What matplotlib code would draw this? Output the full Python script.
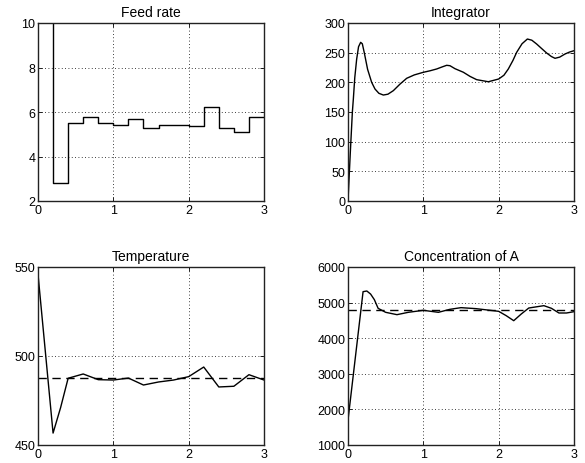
import matplotlib
matplotlib.use("Agg")
import matplotlib.pyplot as plt
import numpy as np

plt.rcParams['font.family'] = ['Liberation Sans', 'DejaVu Sans']

# Feed rate (zero-order hold, step 0.2)
feed_t = [0.0, 0.2, 0.4, 0.6, 0.8, 1.0, 1.2, 1.4, 1.6, 1.8, 2.0, 2.2, 2.4, 2.6, 2.8, 3.0]
feed_v = [10.5, 2.82, 5.49, 5.76, 5.49, 5.43, 5.70, 5.30, 5.42, 5.42, 5.36, 6.21, 5.27, 5.12, 5.76, 5.76]

# Integrator
int_t = [0.0, 0.03, 0.058, 0.071, 0.09, 0.115, 0.14, 0.168, 0.19, 0.216, 0.26, 0.314, 0.358, 0.41,
         0.469, 0.53, 0.602, 0.69, 0.779, 0.88, 1.0, 1.09, 1.177, 1.25, 1.31, 1.354, 1.42, 1.531,
         1.62, 1.708, 1.863, 2.0, 2.07, 2.128, 2.19, 2.239, 2.31, 2.381, 2.44, 2.504, 2.57, 2.637,
         2.70, 2.748, 2.81, 2.88, 2.94, 3.0]
int_v = [0, 80, 150, 172, 208, 239, 260, 267.4, 265, 250, 222, 200, 188.8, 181.5,
         178.6, 180, 186, 197, 206.8, 212.5, 216.9, 219.5, 222.5, 226, 228.7, 228, 223, 217,
         210, 204.5, 201, 205.6, 212, 222.5, 237, 250.6, 265, 273, 271, 264.6, 257, 249.4,
         243.5, 240.5, 242.5, 247.7, 251, 253.3]

# Temperature
temp_t = [0.0, 0.2, 0.3, 0.4, 0.6, 0.8, 1.0, 1.2, 1.4, 1.6, 1.8, 2.0, 2.2, 2.4, 2.6, 2.8, 3.0]
temp_v = [546, 456.7, 471, 487.5, 489.9, 486.7, 486.5, 487.6, 483.7, 485.4, 486.5, 488.4, 493.8, 482.6, 483.0, 489.5, 486.5]
temp_ref = 487.8

# Concentration of A
conc_t = [0.0, 0.2, 0.25, 0.3, 0.35, 0.4, 0.5, 0.65, 0.8, 1.0, 1.2, 1.35, 1.5, 1.7, 2.0, 2.1, 2.2,
          2.3, 2.4, 2.6, 2.7, 2.8, 2.9, 3.0]
conc_v = [1700, 5307, 5326, 5240, 5082, 4839, 4727, 4661, 4727, 4783, 4727, 4810, 4858, 4830, 4755, 4633, 4492,
          4680, 4848, 4914, 4840, 4708, 4708, 4745]
conc_ref = 4790

fig = plt.figure(figsize=(5.85, 4.64), dpi=100)

positions = [
    [38/585, 1-202/464, 226/585, 178/464],
    [348/585, 1-202/464, 226/585, 178/464],
    [38/585, 1-446/464, 226/585, 178/464],
    [348/585, 1-446/464, 226/585, 178/464],
]

def style(ax, title, ylim, yticks):
    ax.set_xlim(0, 3)
    ax.set_ylim(*ylim)
    ax.set_xticks([0, 1, 2, 3])
    ax.set_yticks(yticks)
    ax.grid(True, linestyle=(0, (1, 3)), color='k', linewidth=0.6)
    ax.tick_params(direction='in', length=3, labelsize=9, top=True, right=True, pad=2, width=0.6)
    ax.set_title(title, fontsize=10, pad=5)
    for s in ax.spines.values():
        s.set_linewidth(1.0)
        s.set_color('#222222')

ax1 = fig.add_axes(positions[0])
ax1.step(feed_t, feed_v, where='post', color='k', lw=1.0)
style(ax1, 'Feed rate', (2, 10), [2, 4, 6, 8, 10])

ax2 = fig.add_axes(positions[1])
ax2.plot(int_t, int_v, color='k', lw=1.0)
style(ax2, 'Integrator', (0, 300), [0, 50, 100, 150, 200, 250, 300])

ax3 = fig.add_axes(positions[2])
ax3.plot(temp_t, temp_v, color='k', lw=1.0)
ax3.axhline(temp_ref, color='k', lw=1.0, linestyle=(0, (6, 4)))
style(ax3, 'Temperature', (450, 550), [450, 500, 550])

ax4 = fig.add_axes(positions[3])
ax4.plot(conc_t, conc_v, color='k', lw=1.0)
ax4.axhline(conc_ref, color='k', lw=1.0, linestyle=(0, (6, 4)))
style(ax4, 'Concentration of A', (1000, 6000), [1000, 2000, 3000, 4000, 5000, 6000])

fig.savefig('out.png', dpi=100)
